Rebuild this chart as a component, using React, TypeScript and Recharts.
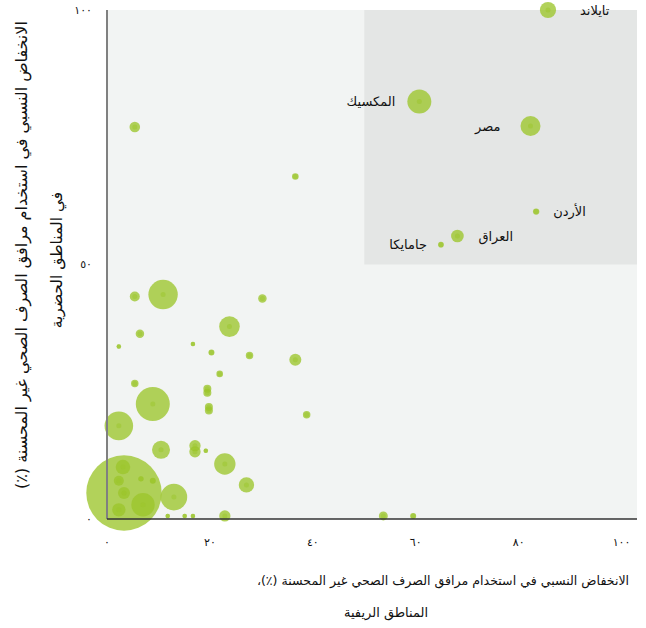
import React from 'react';
import { ScatterChart, Scatter, XAxis, YAxis, ZAxis, ReferenceArea, ReferenceLine } from 'recharts';

// labelled countries
const countryNames = ['تايلاند', 'المكسيك', 'مصر', 'الأردن', 'العراق', 'جامايكا'];
const countryRural = [85.7, 60.7, 82.3, 83.4, 68.1, 64.9];
const countryUrban = [100, 82.0, 77.2, 60.4, 55.6, 53.9];
const countryPop = [66, 144, 100, 10, 40, 8];

// other countries (no labels)
const otherRural = [
  5.4, 36.6, 5.4, 10.9, 30.2, 6.4, 23.8, 2.3, 16.7, 20.3, 27.7, 36.6, 21.9, 5.4,
  19.5, 19.5, 8.9, 19.8, 19.8, 38.8, 2.3, 10.5, 17.1, 17.1, 19.2, 22.9, 27.1,
  3.3, 13.0, 22.9, 11.8, 15.1, 16.7, 53.7, 59.5, 3.1, 2.3, 6.6, 8.9, 3.3, 7.0, 2.3,
];
const otherUrban = [
  77.0, 67.3, 43.7, 44.1, 43.3, 36.4, 37.8, 33.9, 34.4, 32.7, 32.1, 31.3, 28.5, 26.6,
  25.6, 24.8, 22.6, 22.0, 21.3, 20.5, 18.3, 13.6, 14.4, 13.2, 13.4, 10.8, 6.7,
  5.1, 4.3, 0.6, 0.6, 0.6, 0.6, 0.6, 0.6, 10.2, 7.5, 7.9, 7.5, 5.1, 2.8, 1.8,
];
const otherPop = [
  28, 11, 25, 216, 18, 18, 106, 5, 5, 9, 14, 36, 11, 14,
  16, 16, 289, 16, 16, 14, 204, 81, 32, 32, 5, 114, 59,
  1421, 177, 32, 5, 5, 5, 20, 9, 53, 25, 7, 9, 36, 137, 45,
];

const xTicks = [0, 20, 40, 60, 80, 100];
const yTicks = [0, 50, 100];

const countries = countryNames.map((name, i) => ({
  name, x: countryRural[i], y: countryUrban[i], z: countryPop[i],
}));
const others = otherRural.map((x, i) => ({ x, y: otherUrban[i], z: otherPop[i] }));

const GREEN = '#9cc52c';
const FONT = '"DejaVu Sans", sans-serif';

const LABEL_POS: Record<string, { dx: number; anchor: 'start' | 'end' }> = {
  'تايلاند': { dx: 32, anchor: 'start' },
  'المكسيك': { dx: -24, anchor: 'end' },
  'مصر': { dx: -30, anchor: 'end' },
  'الأردن': { dx: 17, anchor: 'start' },
  'العراق': { dx: 21, anchor: 'start' },
  'جامايكا': { dx: -14, anchor: 'end' },
};

const toArabicDigits = (v: number | string) =>
  String(v).replace(/[0-9]/g, (d) => '٠١٢٣٤٥٦٧٨٩'[Number(d)]);

const radiusOf = (props: any) =>
  props.size != null ? Math.sqrt(props.size / Math.PI) : (props.width || 0) / 2;

const Bubble = (props: any) => {
  const { cx, cy } = props;
  const r = radiusOf(props);
  return (
    <g>
      <circle cx={cx} cy={cy} r={r} fill={GREEN} fillOpacity={0.78} />
      <circle cx={cx} cy={cy} r={Math.min(2.5, r)} fill={GREEN} fillOpacity={0.5} />
    </g>
  );
};

const LabelledBubble = (props: any) => {
  const { cx, cy, payload } = props;
  const pos = LABEL_POS[payload.name];
  return (
    <g>
      <Bubble {...props} />
      <text
        x={cx + pos.dx}
        y={cy}
        dy="0.35em"
        textAnchor={pos.anchor}
        fontSize={13}
        fontFamily={FONT}
        fill="#111"
      >
        {payload.name}
      </text>
    </g>
  );
};

const titleStyle: React.CSSProperties = {
  position: 'absolute',
  direction: 'rtl',
  whiteSpace: 'nowrap',
  fontFamily: FONT,
  color: '#111',
  lineHeight: 1,
};

const App: React.FC = () => {
  return (
    <div style={{ position: 'absolute', left: 0, top: 0, width: 646, height: 628, background: '#fff', overflow: 'hidden' }}>
      <ScatterChart width={646} height={628} margin={{ top: 10, right: 9, bottom: 79, left: 77 }}>
        <XAxis
          type="number"
          dataKey="x"
          domain={[0, 103]}
          ticks={xTicks}
          axisLine={false}
          tickLine={false}
          tickSize={0}
          tickMargin={19}
          height={30}
          tickFormatter={toArabicDigits}
          tick={{ fontSize: 11, fill: '#111', fontFamily: FONT }}
        />
        <YAxis
          type="number"
          dataKey="y"
          domain={[0, 100]}
          ticks={yTicks}
          axisLine={false}
          tickLine={false}
          tickSize={0}
          tickMargin={15}
          width={30}
          tickFormatter={toArabicDigits}
          tick={{ fontSize: 11, fill: '#111', fontFamily: FONT }}
        />
        <ZAxis type="number" dataKey="z" domain={[0, 1500]} range={[0, Math.PI * 1500]} />
        <ReferenceArea x1={0} x2={103} y1={0} y2={100} fill="#f2f4f3" fillOpacity={1} stroke="none" />
        <ReferenceArea x1={50} x2={103} y1={50} y2={100} fill="#e4e6e5" fillOpacity={1} stroke="none" />
        <Scatter data={others} shape={<Bubble />} isAnimationActive={false} />
        <Scatter data={countries} shape={<LabelledBubble />} isAnimationActive={false} />
        <ReferenceLine x={0} stroke="#808080" strokeWidth={2} zIndex={1000} />
        <ReferenceLine y={0} stroke="#333" strokeWidth={1.5} zIndex={1000} />
      </ScatterChart>

      <div style={{ ...titleStyle, left: 443, top: 581, fontSize: 12.6, transform: 'translate(-50%, -50%)' }}>
        الانخفاض النسبي في استخدام مرافق الصرف الصحي غير المحسنة (٪)،
      </div>
      <div style={{ ...titleStyle, left: 386, top: 612, fontSize: 13, transform: 'translate(-50%, -50%)' }}>
        المناطق الريفية
      </div>
      <div style={{ ...titleStyle, left: 22, top: 255, fontSize: 16, transform: 'translate(-50%, -50%) rotate(-90deg)' }}>
        الانخفاض النسبي في استخدام مرافق الصرف الصحي غير المحسنة (٪)
      </div>
      <div style={{ ...titleStyle, left: 58, top: 260, fontSize: 15.5, transform: 'translate(-50%, -50%) rotate(-90deg)' }}>
        في المناطق الحضرية
      </div>
    </div>
  );
};

export default App;
